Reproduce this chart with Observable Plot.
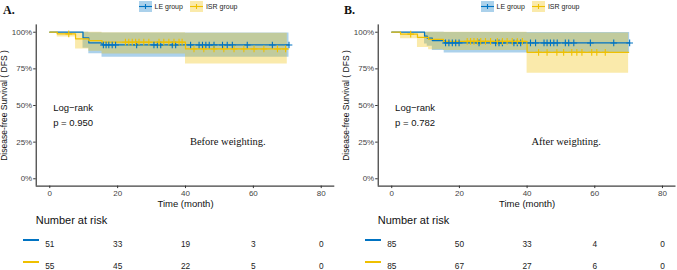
<!DOCTYPE html>
<html><head><meta charset="utf-8">
<script src="https://cdn.jsdelivr.net/npm/d3@7"></script>
<script src="https://cdn.jsdelivr.net/npm/@observablehq/plot@0.6"></script>
<style>
body{margin:0;background:#fff;font-family:"Liberation Sans",Arial,sans-serif;}
#root{position:relative;width:677px;height:270px;overflow:hidden;background:#fff}
.panel{position:absolute;top:0;height:270px}
.abs{position:absolute;white-space:nowrap}
svg{display:block}
</style></head><body><div id="root"></div>
<script>
// ---------- data ----------
const groups = ["LE group", "ISR group"];
const groupColors = ["#0073C2", "#EFC000"];
const riskTimes = [0, 20, 40, 60, 80];
const xTicks = [0, 20, 40, 60, 80];
const yTicks = [0, 0.25, 0.5, 0.75, 1];

// Panel A (before weighting)
const timeA_LE = [0, 9.8, 11.5, 15.4, 70.5];
const survA_LE = [1, 0.962, 0.927, 0.913, 0.913];
const lowA_LE  = [1, 0.89, 0.853, 0.829, 0.829];
const upA_LE   = [1, 1, 0.997, 0.994, 0.994];
const timeA_ISR = [0, 2.2, 7.6, 11.5, 15.4, 40, 70];
const survA_ISR = [1, 0.989, 0.955, 0.943, 0.932, 0.886, 0.886];
const lowA_ISR  = [1, 0.968, 0.886, 0.87, 0.852, 0.784, 0.784];
const upA_ISR   = [1, 1, 1, 0.999, 0.997, 0.993, 0.993];
const censA_LE  = [15.8, 16.6, 17.4, 18.4, 19.4, 25.6, 30.7, 31.7, 32.7, 36.1, 37.1, 41.5, 44, 45, 46, 47, 48.4, 50.9, 52.3, 53.8, 58.2, 65.6, 70.5];
const censA_ISR = [5.6, 22.3, 23.3, 24.3, 25.3, 26.3, 27.7, 29.2, 32.2, 33.6, 35.1, 36.6, 38.1, 39, 42.5, 45.4, 48.4, 51.3, 54.3, 57.2, 60.2, 63.1, 67.1, 69.5];
const riskA_LE  = [51, 33, 19, 3, 0];
const riskA_ISR = [55, 45, 22, 5, 0];

// Panel B (after weighting)
const timeB_LE = [0, 9.7, 10.5, 12, 15.5, 70.3];
const survB_LE = [1, 0.973, 0.959, 0.943, 0.927, 0.927];
const lowB_LE  = [1, 0.92, 0.905, 0.875, 0.859, 0.859];
const upB_LE   = [1, 1, 1, 0.999, 0.998, 0.998];
const timeB_ISR = [0, 2.6, 7.6, 10.9, 15.3, 40, 70];
const survB_ISR = [1, 0.987, 0.965, 0.951, 0.938, 0.863, 0.863];
const lowB_ISR  = [1, 0.955, 0.895, 0.88, 0.875, 0.72, 0.72];
const upB_ISR   = [1, 1, 1, 1, 0.999, 0.995, 0.995];
const censB_LE  = [15.9, 16.9, 17.9, 18.9, 19.9, 25.8, 30.7, 31.7, 32.7, 36.1, 37.1, 38.1, 41, 42.5, 45, 45.9, 46.9, 47.9, 48.9, 51.3, 52.3, 53.8, 58.7, 65.6, 70.3];
const censB_ISR = [5.6, 22.3, 23.3, 24.3, 25.3, 26.3, 27.7, 29.2, 31.2, 32.7, 34.1, 35.6, 37.1, 38.6, 43.4, 45.9, 48.8, 50.8, 53.2, 54.7, 56.2, 59.1, 60.6, 63.1];
const riskB_LE  = [85, 50, 33, 4, 0];
const riskB_ISR = [85, 67, 27, 6, 0];

// ---------- helpers ----------
const FONT = '"Liberation Sans", Arial, sans-serif';
function stepRows(group, t, s, lo, hi) {
  return t.map((d, i) => ({group, t: d, s: s[i], lo: lo[i], hi: hi[i]}));
}
function survAt(t, s, x) {
  let v = s[0];
  for (let i = 0; i < t.length; i++) if (t[i] <= x) v = s[i];
  return v;
}
function censRows(group, cens, t, s) {
  return cens.map(c => ({group, t: c, s: survAt(t, s, c)}));
}
function legendKey(color) {
  return `<svg width="13" height="11" style="display:inline-block;vertical-align:middle">
    <rect x="0" y="0" width="13" height="11" fill="${color}" fill-opacity="0.33"></rect>
    <line x1="0" x2="13" y1="5.5" y2="5.5" stroke="${color}" stroke-width="1.1"></line>
    <line x1="6.5" x2="6.5" y1="3" y2="8" stroke="${color}" stroke-width="1.1"></line>
  </svg>`;
}

function makePanel(cfg) {
  const div = document.createElement("div");
  div.className = "panel";
  div.style.left = cfg.left + "px";
  div.style.width = cfg.width + "px";

  const steps = [
    ...stepRows(groups[0], cfg.le.t, cfg.le.s, cfg.le.lo, cfg.le.hi),
    ...stepRows(groups[1], cfg.isr.t, cfg.isr.s, cfg.isr.lo, cfg.isr.hi)
  ];
  const cens = [
    ...censRows(groups[0], cfg.le.c, cfg.le.t, cfg.le.s),
    ...censRows(groups[1], cfg.isr.c, cfg.isr.t, cfg.isr.s)
  ];
  const xDomain = [-4, 84], yDomain = [-0.05, 1.05];

  const main = Plot.plot({
    width: cfg.width, height: 215,
    marginLeft: cfg.mL, marginRight: cfg.mR, marginTop: 24.4, marginBottom: 29.4,
    style: {fontFamily: FONT, background: "white", overflow: "visible"},
    x: {domain: xDomain},
    y: {domain: yDomain},
    color: {domain: groups, range: groupColors},
    marks: [
      Plot.areaY(steps, {x: "t", y1: "lo", y2: "hi", fill: "group", fillOpacity: 0.33, curve: "step-after"}),
      Plot.line(steps, {x: "t", y: "s", stroke: "group", strokeWidth: 1.25, curve: "step-after"}),
      Plot.dot(cens, {x: "t", y: "s", stroke: "group", symbol: "plus", r: 2.3, strokeWidth: 1.1}),
      Plot.ruleX([xDomain[0]], {stroke: "#111", strokeWidth: 1}),
      Plot.ruleY([yDomain[0]], {stroke: "#111", strokeWidth: 1}),
      Plot.axisY({ticks: yTicks, tickFormat: d3.format(".0%"), tickSize: 2.5, tickPadding: 1.5,
        fontSize: 8, fill: "#444", stroke: "#333", label: null}),
      Plot.axisY({ticks: [], tickSize: 0, label: "Disease-free Survival ( DFS )", labelAnchor: "center",
        labelOffset: 35, labelArrow: "none", fontSize: 8.5, fill: "#111"}),
      Plot.axisX({ticks: xTicks, tickSize: 2.5, tickPadding: 1.5, fontSize: 8, fill: "#444", stroke: "#333",
        label: null}),
      Plot.axisX({ticks: [], tickSize: 0, label: "Time (month)", labelAnchor: "center",
        labelOffset: 21, labelArrow: "none", fontSize: 9.5, fill: "#111"}),
      Plot.text([cfg.pText], {x: 1, y: 0.444, text: d => d, textAnchor: "start", lineAnchor: "middle",
        lineHeight: 1.58, fontSize: 9.5, fill: "#111"}),
      Plot.text([cfg.note], {x: 41.3, y: 0.256, text: d => d, textAnchor: "start",
        fontFamily: '"Liberation Serif", "Times New Roman", serif', fontSize: 10.5, fill: "#111"})
    ]
  });
  main.style.position = "absolute"; main.style.left = "0px"; main.style.top = "0px";
  div.appendChild(main);

  const riskRows = [
    ...riskTimes.map((t, i) => ({group: groups[0], t, n: cfg.le.r[i]})),
    ...riskTimes.map((t, i) => ({group: groups[1], t, n: cfg.isr.r[i]}))
  ];
  const risk = Plot.plot({
    width: cfg.width, height: 38,
    marginLeft: cfg.mL, marginRight: cfg.mR, marginTop: 11.3, marginBottom: 4.3,
    style: {fontFamily: FONT, background: "transparent", overflow: "visible"},
    x: {domain: xDomain, axis: null},
    y: {type: "point", domain: groups, padding: 0, axis: null},
    marks: [
      Plot.text(riskRows, {x: "t", y: "group", text: "n", fontSize: 8.3, fill: "#222"})
    ]
  });
  risk.style.position = "absolute"; risk.style.left = "0px"; risk.style.top = "232px";
  div.appendChild(risk);

  // title of risk table
  const rt = document.createElement("div");
  rt.className = "abs";
  rt.style.cssText = `left:${cfg.mL}px;top:213.5px;font-size:11px;line-height:13px;color:#111`;
  rt.textContent = "Number at risk";
  div.appendChild(rt);

  // colour keys of risk table rows
  [240.3, 262.3].forEach((y, i) => {
    const k = document.createElement("div");
    k.className = "abs";
    k.style.cssText = `left:${cfg.keyX}px;top:${y - 1}px;width:16px;height:2.2px;background:${groupColors[i]}`;
    div.appendChild(k);
  });

  // legend
  const lg = document.createElement("div");
  lg.className = "abs";
  lg.style.cssText = `left:${cfg.legX}px;top:0.5px;font-size:7px;line-height:11px;color:#222`;
  lg.innerHTML = `${legendKey(groupColors[0])}<span style="vertical-align:middle;margin:0 7px 0 2.5px">${groups[0]}</span>${legendKey(groupColors[1])}<span style="vertical-align:middle;margin-left:3px">${groups[1]}</span>`;
  div.appendChild(lg);

  // panel letter
  const lt = document.createElement("div");
  lt.className = "abs";
  lt.style.cssText = `left:${cfg.letX}px;top:3px;font-size:12px;font-weight:bold;font-family:"Liberation Serif","Times New Roman",serif;color:#111`;
  lt.textContent = cfg.letter;
  div.appendChild(lt);

  return div;
}

const root = document.getElementById("root");
root.appendChild(makePanel({
  left: 0, width: 337, mL: 35.7, mR: 2.7, letter: "A.", letX: 3, legX: 139, keyX: 23,
  pText: "Log\u2212rank\np = 0.950", note: "Before weighting.",
  le: {t: timeA_LE, s: survA_LE, lo: lowA_LE, hi: upA_LE, c: censA_LE, r: riskA_LE},
  isr: {t: timeA_ISR, s: survA_ISR, lo: lowA_ISR, hi: upA_ISR, c: censA_ISR, r: riskA_ISR}
}));
root.appendChild(makePanel({
  left: 337, width: 340, mL: 40.7, mR: 1.5, letter: "B.", letX: 7, legX: 144, keyX: 28.3,
  pText: "Log\u2212rank\np = 0.782", note: "After weighting.",
  le: {t: timeB_LE, s: survB_LE, lo: lowB_LE, hi: upB_LE, c: censB_LE, r: riskB_LE},
  isr: {t: timeB_ISR, s: survB_ISR, lo: lowB_ISR, hi: upB_ISR, c: censB_ISR, r: riskB_ISR}
}));
</script></body></html>
